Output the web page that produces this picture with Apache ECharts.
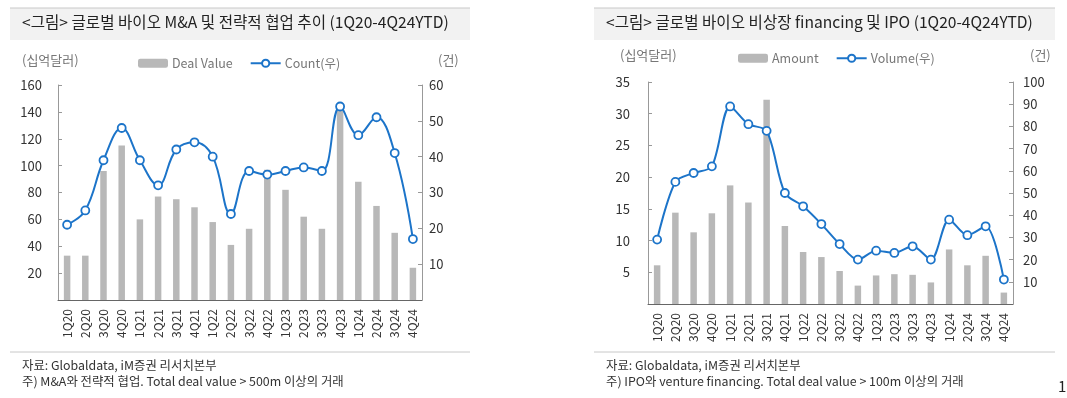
<!DOCTYPE html>
<html>
<head>
<meta charset="utf-8">
<script src="https://cdn.jsdelivr.net/npm/echarts@6/dist/echarts.min.js"></script>
<style>
  html, body { margin: 0; padding: 0; background: #fff; }
  #chart { width: 1067px; height: 398px; }
</style>
</head>
<body>
<div id="chart"></div>
<script>
// 분기
const quarters = ["1Q20", "2Q20", "3Q20", "4Q20", "1Q21", "2Q21", "3Q21", "4Q21", "1Q22", "2Q22",
  "3Q22", "4Q22", "1Q23", "2Q23", "3Q23", "4Q23", "1Q24", "2Q24", "3Q24", "4Q24"];

// 왼쪽: M&A 및 전략적 협업
const dealValue = [33, 33, 96, 115, 60, 77, 75, 69, 58, 41, 53, 97, 82, 62, 53, 143, 88, 70, 50, 24];
const dealCount = [21, 25, 39, 48, 39, 32, 42, 44, 40, 24, 36, 35, 36, 37, 36, 54, 46, 51, 41, 17];

// 오른쪽: 비상장 financing 및 IPO
const amount = [6.1, 14.4, 11.3, 14.3, 18.7, 16.0, 32.2, 12.3, 8.2, 7.4, 5.2, 2.9, 4.5, 4.7, 4.6, 3.4, 8.6, 6.1, 7.6, 1.8];
const volume = [29, 55, 59, 62, 89, 81, 78, 50, 44, 36, 27, 20, 24, 23, 26, 20, 38, 31, 35, 11];

const FONT = "'Noto Sans CJK KR', 'Noto Sans', sans-serif";
const BAR = "#b8b8b8";
const LINE = "#1c74c9";

const chart = echarts.init(document.getElementById("chart"));

function xAxisFor(gridIndex) {
  return {
    type: "category",
    gridIndex: gridIndex,
    data: quarters,
    axisLine: { lineStyle: { color: "#666" } },
    axisTick: { inside: true, length: 4, lineStyle: { color: "#666" } },
    axisLabel: { rotate: 90, fontSize: 12, color: "#333", margin: 9, fontFamily: FONT },
  };
}

function yAxisFor(gridIndex, max, interval, margin) {
  return {
    type: "value",
    gridIndex: gridIndex,
    min: 0,
    max: max,
    interval: interval,
    axisLine: { show: true, lineStyle: { color: "#999" } },
    axisTick: { show: true, inside: true, length: 4, lineStyle: { color: "#999" } },
    axisLabel: { showMinLabel: false, fontSize: 13, color: "#333", margin: margin, fontFamily: FONT },
    splitLine: { show: false },
  };
}

function text(x, y, str, size, color) {
  return {
    type: "text",
    left: x,
    top: y,
    style: { text: str, font: size + "px " + FONT, fill: color },
  };
}

function legendFor(names, x, y) {
  return {
    data: names,
    left: x,
    top: y,
    padding: 0,
    itemWidth: 30,
    itemHeight: 9,
    itemGap: 17,
    textStyle: { fontSize: 12.5, color: "#777", fontFamily: FONT, padding: [0, 0, 0, -1] },
  };
}

const option = {
  animation: false,
  textStyle: { fontFamily: FONT },
  grid: [
    { left: 58, right: 645, top: 85, bottom: 98 },
    { left: 648, right: 54, top: 82, bottom: 94 },
  ],
  legend: [
    legendFor(["Deal Value", "Count(우)"], 138, 57),
    legendFor(["Amount", "Volume(우)"], 738, 52),
  ],
  xAxis: [xAxisFor(0), xAxisFor(1)],
  yAxis: [
    yAxisFor(0, 160, 20, 16),
    Object.assign(yAxisFor(0, 60, 10, 7), { position: "right" }),
    yAxisFor(1, 35, 5, 18),
    Object.assign(yAxisFor(1, 100, 10, 10), { position: "right" }),
  ],
  series: [
    {
      name: "Deal Value",
      type: "bar",
      xAxisIndex: 0,
      yAxisIndex: 0,
      data: dealValue,
      barWidth: 6.5,
      itemStyle: { color: BAR },
    },
    {
      name: "Count(우)",
      type: "line",
      xAxisIndex: 0,
      yAxisIndex: 1,
      data: dealCount,
      smooth: 0.4,
      symbol: "circle",
      symbolSize: 8,
      lineStyle: { color: LINE, width: 2 },
      itemStyle: { color: "#fff", borderColor: LINE, borderWidth: 1.8 },
    },
    {
      name: "Amount",
      type: "bar",
      xAxisIndex: 1,
      yAxisIndex: 2,
      data: amount,
      barWidth: 6.5,
      itemStyle: { color: BAR },
    },
    {
      name: "Volume(우)",
      type: "line",
      xAxisIndex: 1,
      yAxisIndex: 3,
      data: volume,
      smooth: 0.3,
      symbol: "circle",
      symbolSize: 8,
      lineStyle: { color: LINE, width: 2 },
      itemStyle: { color: "#fff", borderColor: LINE, borderWidth: 1.8 },
    },
  ],
  graphic: [
    // 제목 배경
    { type: "rect", shape: { x: 10, y: 8, width: 460, height: 32 }, style: { fill: "#f2f2f2" }, z: -1 },
    { type: "rect", shape: { x: 594, y: 8, width: 461, height: 32 }, style: { fill: "#f2f2f2" }, z: -1 },
    { type: "line", shape: { x1: 10, y1: 8, x2: 470, y2: 8 }, style: { stroke: "#c8c8c8", lineWidth: 1 } },
    { type: "line", shape: { x1: 594, y1: 8, x2: 1055, y2: 8 }, style: { stroke: "#c8c8c8", lineWidth: 1 } },
    // 출처 구분선
    { type: "line", shape: { x1: 10, y1: 352, x2: 470, y2: 352 }, style: { stroke: "#c8c8c8", lineWidth: 1 } },
    { type: "line", shape: { x1: 594, y1: 352, x2: 1055, y2: 352 }, style: { stroke: "#c8c8c8", lineWidth: 1 } },
    text(22, 14, "<그림> 글로벌 바이오 M&A 및 전략적 협업 추이 (1Q20-4Q24YTD)", 15.6, "#222"),
    text(606, 14, "<그림> 글로벌 바이오 비상장 financing 및 IPO (1Q20-4Q24YTD)", 15.6, "#222"),
    text(22, 54, "(십억달러)", 13, "#777"),
    text(438, 54, "(건)", 13, "#777"),
    text(620, 49, "(십억달러)", 13, "#777"),
    text(1030, 49, "(건)", 13, "#777"),
    text(22, 359, "자료: Globaldata, iM증권 리서치본부", 12.4, "#333"),
    text(22, 375, "주) M&A와 전략적 협업. Total deal value > 500m 이상의 거래", 12.4, "#333"),
    text(606, 359, "자료: Globaldata, iM증권 리서치본부", 12.4, "#333"),
    text(606, 375, "주) IPO와 venture financing. Total deal value > 100m 이상의 거래", 12.4, "#333"),
    text(1058, 379, "1", 15, "#222"),
  ],
};

chart.setOption(option);
</script>
</body>
</html>
